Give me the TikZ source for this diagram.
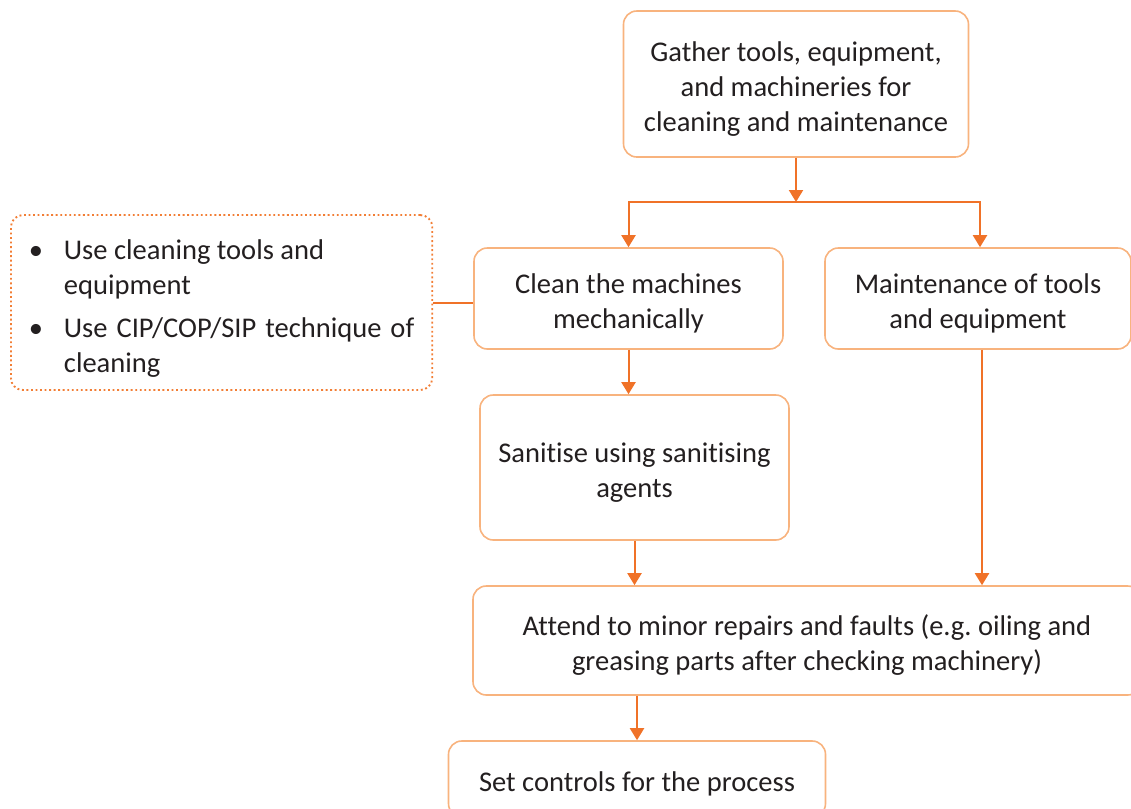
\documentclass[tikz,border=0pt]{standalone}
\usepackage{fontspec}
\setmainfont{Carlito}[Ligatures={NoCommon}]
\usetikzlibrary{arrows.meta}
\definecolor{boxline}{HTML}{F8B37E}
\definecolor{arrowcol}{HTML}{F07228}
\definecolor{dotline}{HTML}{F27E35}
\definecolor{inkcol}{HTML}{231F20}
\begin{document}
\begin{tikzpicture}[
        x=0.75pt, y=-0.75pt,
        font=\fontsize{21.4}{26.25}\selectfont, text=inkcol,
        block/.style={rectangle, rounded corners=10pt, draw=boxline, line width=1.2pt, fill=white, align=flush center, inner sep=0pt, execute at begin node={\rule{0pt}{22pt}}},
        notebox/.style={rectangle, rounded corners=9pt, draw=dotline, line width=1.4pt, dotted, align=flush left, inner xsep=13.5pt, inner ysep=0pt},
        line/.style={draw=arrowcol, line width=1.5pt},
        arrowline/.style={line, -{Triangle[width=10.5pt,length=9pt]}}
    ]
        \clip (0,0) rectangle (1131,808);
        \node [block, text width=250pt, minimum width=258.75pt, minimum height=109.5pt] (gather) at (796,84) {Gather tools, equipment,\\ and machineries for\\ cleaning and maintenance};
        \node [block, text width=220pt, minimum width=231.75pt, minimum height=75.75pt] (clean) at (628.5,298.5) {Clean the machines\\ mechanically};
        \node [block, text width=220pt, minimum width=229.5pt, minimum height=75.75pt] (maint) at (978,298.5) {Maintenance of tools\\ and equipment};
        \node [block, text width=220pt, minimum width=231.75pt, minimum height=108.75pt] (sanitise) at (634.5,467.5) {Sanitise using sanitising\\ agents};
        \node [block, text width=490pt, minimum width=501pt, minimum height=81.75pt] (attend) at (807,640.5) {Attend to minor repairs and faults (e.g.\ oiling and\\ greasing parts after checking machinery)};
        \node [block, text width=270pt, minimum width=282.75pt, minimum height=57pt, execute at begin node={\rule{0pt}{19pt}}] (setctrl) at (637,779) {Set controls for the process};
        \node [notebox, anchor=west, text width=289pt, minimum height=131.25pt] (notes) at (10,302.5) {%
            \rule{0pt}{24pt}\makebox[26.25pt][l]{\textbullet}\parbox[t]{262.75pt}{Use cleaning tools and\\ equipment}\\[12.5pt]
            \makebox[26.25pt][l]{\textbullet}\parbox[t]{262.75pt}{\makebox[262.75pt][s]{Use CIP/COP/SIP technique of}\\ cleaning}};
        \coordinate (split) at (796,202);

        \path [arrowline] (gather) -- (split);
        \path [arrowline] (split) -| (clean.north);
        \path [arrowline] (split) -| ([xshift=1.5pt]maint.north);
        \path [line] (notes.east) -- (notes.east -| clean.west);
        \path [arrowline] (clean) -- (clean |- sanitise.north);
        \path [arrowline] (sanitise) -- (sanitise |- attend.north);
        \path [arrowline] ([xshift=3pt]maint.south) -- ([xshift=3pt]maint.south |- attend.north);
        \path [arrowline] (setctrl |- attend.south) -- (setctrl);
    \end{tikzpicture}
\end{document}
